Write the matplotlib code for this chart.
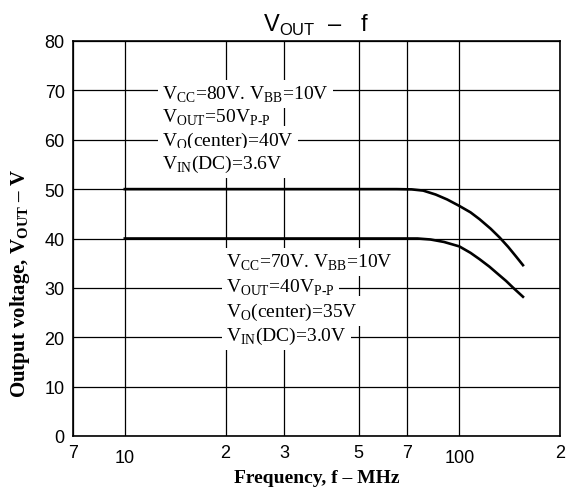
# Vout vs frequency chart

import numpy as np
import matplotlib.pyplot as plt
import matplotlib.transforms as mtransforms
from matplotlib.ticker import FixedLocator, NullLocator

plt.rcParams['mathtext.fontset'] = 'custom'
plt.rcParams['mathtext.rm'] = 'Liberation Serif'
plt.rcParams['mathtext.bf'] = 'Liberation Serif:bold'
plt.rcParams['mathtext.sf'] = 'Liberation Sans'

# data
freq_80v = [10, 65, 72, 78, 85, 92, 100, 108, 115, 124, 132, 140, 148, 155]
vout_80v = [50, 50, 49.95, 49.7, 48.9, 47.9, 46.6, 45.3, 43.9, 42.0, 40.2,
            38.3, 36.3, 34.6]
freq_70v = [10, 75, 82, 90, 100, 108, 115, 123, 130, 138, 145, 155]
vout_70v = [40, 40, 39.8, 39.3, 38.4, 37.1, 35.8, 34.3, 32.9, 31.4, 30.0, 28.2]

x_ticks = [7, 10, 20, 30, 50, 70, 100, 200]
x_tick_labels = ['7', '10', '2', '3', '5', '7', '100', '2']
y_ticks = [0, 10, 20, 30, 40, 50, 60, 70, 80]

notes_80v = [r'V$_{\mathrm{CC}}$=80V. V$_{\mathrm{BB}}$=10V',
             r'V$_{\mathrm{OUT}}$=50V$_{\mathrm{P\text{-}P}}$',
             r'V$_{\mathrm{O}}$(center)=40V',
             r'V$_{\mathrm{IN}}$(DC)=3.6V']
notes_70v = [r'V$_{\mathrm{CC}}$=70V. V$_{\mathrm{BB}}$=10V',
             r'V$_{\mathrm{OUT}}$=40V$_{\mathrm{P\text{-}P}}$',
             r'V$_{\mathrm{O}}$(center)=35V',
             r'V$_{\mathrm{IN}}$(DC)=3.0V']

fig = plt.figure(figsize=(5.67, 4.89), dpi=100)
ax = fig.add_axes([73/567, 52/489, 487/567, 395/489])

ax.set_xscale('log')
ax.set_xlim(7, 200)
ax.set_ylim(0, 80)

ax.xaxis.set_major_locator(FixedLocator(x_ticks))
ax.xaxis.set_minor_locator(NullLocator())
ax.set_xticklabels(x_tick_labels)
ax.set_yticks(y_ticks)
ax.tick_params(length=0, pad=6, labelsize=13)
for lab in ax.get_xticklabels() + ax.get_yticklabels():
    lab.set_fontfamily('Liberation Sans')

# 10 and 100 sit a little lower in the original
off = mtransforms.ScaledTranslation(0, -5/100, fig.dpi_scale_trans)
for lab, t in zip(ax.get_xticklabels(), x_tick_labels):
    if t in ('10', '100'):
        lab.set_transform(lab.get_transform() + off)

ax.grid(True, color='black', linewidth=0.9)
ax.set_axisbelow(True)
for s in ax.spines.values():
    s.set_linewidth(1.2)

# curves
ax.plot(freq_80v, vout_80v, color='black', linewidth=1.9, zorder=3)
ax.plot(freq_70v, vout_70v, color='black', linewidth=1.9, zorder=3)

# condition notes
box = dict(facecolor='white', edgecolor='none', pad=3)
for txt, yv in zip(notes_80v, [69.3, 64.6, 59.9, 55.3]):
    ax.text(12.9, yv, txt, fontsize=14, family='Liberation Serif',
            va='center', ha='left', bbox=box, zorder=4)
for txt, yv in zip(notes_70v, [35.2, 30.3, 25.3, 20.3]):
    ax.text(20.1, yv, txt, fontsize=14, family='Liberation Serif',
            va='center', ha='left', bbox=box, zorder=4)

# labels
ax.set_title(r'V$_{\mathsf{OUT}}$  –   f', fontsize=17,
             family='Liberation Sans', pad=7)
ax.set_xlabel('Frequency, f – MHz', fontsize=14, family='Liberation Serif',
              fontweight='bold', labelpad=2)
ax.set_ylabel(r'Output voltage, V$_{\mathbf{OUT}}$ – V', fontsize=15,
              family='Liberation Serif', fontweight='bold')
ax.yaxis.set_label_coords(-0.085, 0.39)

fig.savefig('out.png', dpi=100)
